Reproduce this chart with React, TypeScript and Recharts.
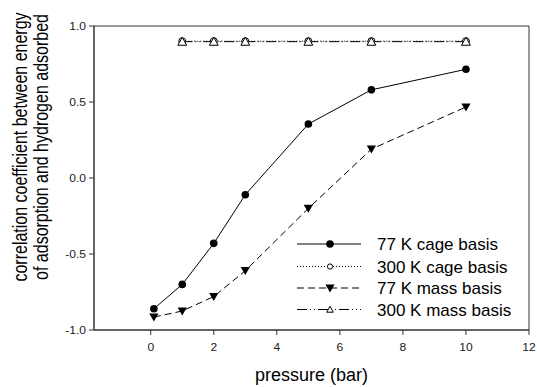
import { LineChart, Line, XAxis, YAxis, ReferenceArea, Label } from 'recharts'

const pressure77 = [0.1, 1, 2, 3, 5, 7, 10]
const cage77 = [-0.86, -0.7, -0.43, -0.11, 0.355, 0.58, 0.715]
const mass77 = [-0.915, -0.875, -0.78, -0.61, -0.2, 0.19, 0.467]
const pressure300 = [1, 2, 3, 5, 7, 10]
const cage300 = [0.9, 0.9, 0.9, 0.9, 0.9, 0.9]
const mass300 = [0.897, 0.897, 0.897, 0.897, 0.897, 0.897]
const xTicks = [0, 2, 4, 6, 8, 10, 12]
const yTicks = [-1, -0.5, 0, 0.5, 1]
const seriesNames = ['77 K cage basis', '300 K cage basis', '77 K mass basis', '300 K mass basis']

const FONT = '"Liberation Sans", Arial, sans-serif'
const INK = '#000'
const AXIS = '#333'
// the source figure's small text is a bit wider than normal
const TICK_STRETCH = 1.15
const TITLE_STRETCH = 1.3

type Kind = 'dot' | 'ring' | 'down' | 'up'

const toPoints = (xs: number[], ys: number[]) => xs.map((x, i) => ({ x, y: ys[i] }))

const series = [
  { name: seriesNames[0], data: toPoints(pressure77, cage77), dash: undefined, kind: 'dot' as Kind },
  { name: seriesNames[1], data: toPoints(pressure300, cage300), dash: '1 2', kind: 'ring' as Kind },
  { name: seriesNames[2], data: toPoints(pressure77, mass77), dash: '7 4', kind: 'down' as Kind },
  { name: seriesNames[3], data: toPoints(pressure300, mass300), dash: '10 3 1 3 1 3', kind: 'up' as Kind },
]

function Marker({ kind, cx, cy, s = 1 }: { kind: Kind; cx: number; cy: number; s?: number }) {
  if (cx == null || cy == null) return null
  if (kind === 'dot') return <circle cx={cx} cy={cy} r={3.8 * s} fill={INK} />
  if (kind === 'ring') return <circle cx={cx} cy={cy} r={3.5 * s} fill="#fff" stroke={INK} strokeWidth={1} />
  if (kind === 'down') {
    const w = 4.6 * s
    return <polygon points={`${cx - w},${cy - 3.6 * s} ${cx + w},${cy - 3.6 * s} ${cx},${cy + 4.4 * s}`} fill={INK} />
  }
  const w = 4.4 * s
  return (
    <polygon
      points={`${cx - w},${cy + 3.6 * s} ${cx + w},${cy + 3.6 * s} ${cx},${cy - 4.4 * s}`}
      fill="#fff"
      stroke={INK}
      strokeWidth={1}
    />
  )
}

function XTick({ x, y, payload }: any) {
  return (
    <text
      transform={`translate(${x},${y}) scale(${TICK_STRETCH},1)`}
      textAnchor="middle"
      dy="0.71em"
      fontFamily={FONT}
      fontSize={10.5}
      fill="#222"
    >
      {payload.value}
    </text>
  )
}

function YTick({ x, y, payload }: any) {
  return (
    <text
      transform={`translate(${x},${y}) scale(${TICK_STRETCH},1)`}
      textAnchor="end"
      dy="0.36em"
      fontFamily={FONT}
      fontSize={10.5}
      fill="#222"
    >
      {Number(payload.value).toFixed(1)}
    </text>
  )
}

function YTitle() {
  const cy = 147
  const lines = ['correlation coefficient between energy', 'of adsorption and hydrogen adsorbed']
  const base = [27, 48]
  return (
    <g fontFamily={FONT} fontSize={16} fill={INK}>
      {lines.map((t, i) => (
        <text
          key={t}
          textAnchor="middle"
          transform={`translate(${base[i]},${cy}) scale(${TITLE_STRETCH},1) rotate(-90)`}
        >
          {t}
        </text>
      ))}
    </g>
  )
}

function XTitle(props: any) {
  const vb = props.viewBox || {}
  const cx = vb.x + vb.width / 2
  return (
    <text x={cx} y={381} textAnchor="middle" fontFamily={FONT} fontSize={18} fill={INK}>
      pressure (bar)
    </text>
  )
}

function LegendBox() {
  const rows = [244, 266.5, 288, 309.5]
  return (
    <g>
      {series.map((s, i) => (
        <g key={s.name}>
          <line x1={297} x2={361} y1={rows[i]} y2={rows[i]} stroke={INK} strokeWidth={1} strokeDasharray={s.dash} />
          <Marker kind={s.kind} cx={330} cy={rows[i]} s={s.kind === 'ring' || s.kind === 'up' ? 0.75 : 1} />
          <text x={377} y={rows[i]} dy="0.36em" fontFamily={FONT} fontSize={17} fill={INK}>
            {s.name}
          </text>
        </g>
      ))}
    </g>
  )
}

export default function App() {
  return (
    <div style={{ position: 'absolute', left: 0, top: 0, background: '#fff' }}>
      <LineChart width={537} height={387} margin={{ top: 26, right: 8, bottom: 0, left: 0 }}>
        <XAxis
          type="number"
          dataKey="x"
          domain={[-1.8, 12]}
          ticks={xTicks}
          allowDataOverflow
          height={57}
          stroke={AXIS}
          tickSize={5}
          tickMargin={9}
          tick={<XTick />}
        >
          <Label content={<XTitle />} />
        </XAxis>
        <YAxis
          type="number"
          dataKey="y"
          domain={[-1, 1]}
          ticks={yTicks}
          interval={0}
          width={94}
          stroke={AXIS}
          tickSize={5}
          tickMargin={3}
          tick={<YTick />}
        >
          <Label content={<YTitle />} />
        </YAxis>
        <ReferenceArea x1={-1.8} x2={12} y1={-1} y2={1} fill="none" fillOpacity={0} stroke={AXIS} strokeWidth={1} />
        {series.map((s) => (
          <Line
            key={s.name}
            name={s.name}
            data={s.data}
            dataKey="y"
            type="linear"
            stroke={INK}
            strokeWidth={1}
            strokeDasharray={s.dash}
            isAnimationActive={false}
            dot={(p: any) => <Marker key={`${s.name}-${p.index}`} kind={s.kind} cx={p.cx} cy={p.cy} />}
            activeDot={false}
          />
        ))}
        <LegendBox />
      </LineChart>
    </div>
  )
}
